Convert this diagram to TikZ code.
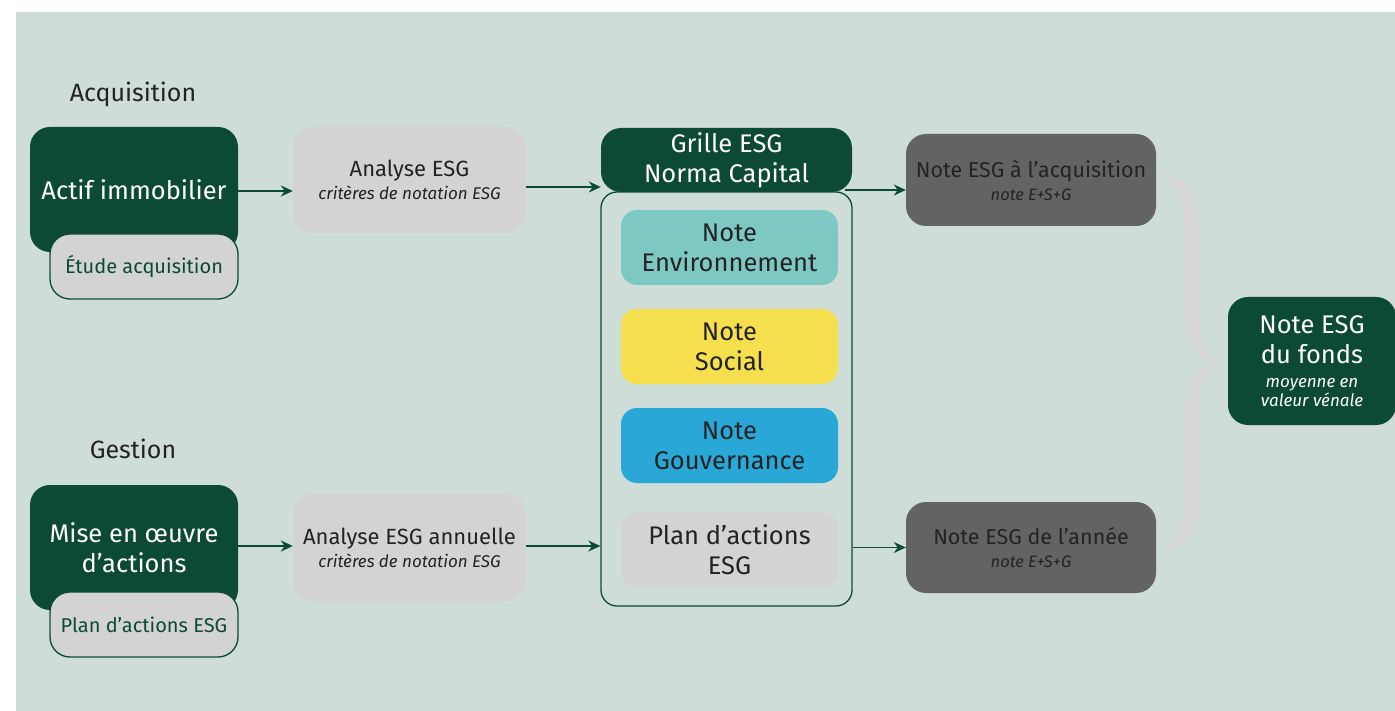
\documentclass[tikz,border=0pt]{standalone}
\usepackage{fontspec}
\setmainfont{Fira Sans}
\usetikzlibrary{arrows.meta}
\definecolor{bgc}{HTML}{CFDDD8}
\definecolor{dgreen}{HTML}{0C4A36}
\definecolor{lgray}{HTML}{D3D3D3}
\definecolor{dgray}{HTML}{636363}
\definecolor{txt}{HTML}{232323}
\definecolor{teal}{HTML}{7EC8C3}
\definecolor{yel}{HTML}{F5DF4D}
\definecolor{blu}{HTML}{29A8D8}
\definecolor{brace}{HTML}{D7D7D7}
\tikzset{
  box/.style={rectangle, rounded corners=20pt, align=center, inner sep=0pt},
  darkbox/.style={box, fill=dgreen, text=white, font=\fontsize{25.5}{30}\selectfont},
  subbox/.style={box, fill=lgray, draw=dgreen, line width=1.3pt, text=dgreen, font=\fontsize{20}{22}\selectfont},
  anbox/.style={box, fill=lgray, text=txt, font=\fontsize{22}{23}\selectfont},
  notebox/.style={box, rounded corners=16pt, text=txt, minimum width=217pt, minimum height=75pt, font=\fontsize{25.5}{30}\selectfont},
  resbox/.style={box, fill=dgray, text=txt, font=\fontsize{21.5}{23}\selectfont},
  head/.style={text=txt, font=\fontsize{25}{28}\selectfont},
  arr/.style={draw=dgreen, line width=1.6pt, -{Stealth[length=12pt,width=11pt]}},
}
\begin{document}
\begin{tikzpicture}[x=1pt,y=-1pt]
\useasboundingbox (0,0) rectangle (1395,711);
\clip (0,0) rectangle (1395,711);
\fill[bgc] (16,12) rectangle (1400,715);

% left column
\node[head] (hacq) at (133,94) {Acquisition};
\node[darkbox, minimum width=208pt, minimum height=125pt] (actif) at (134,189.5) {Actif immobilier};
\node[subbox, minimum width=188pt, minimum height=65pt] (etude) at (144,266.5) {Étude acquisition};

\node[head] (hges) at (133,449) {Gestion};
\node[darkbox, minimum width=208pt, minimum height=125pt] (mise) at (134,547.5) {Mise en œuvre\\d’actions};
\node[subbox, minimum width=188pt, minimum height=65pt] (plan1) at (144,624.5) {Plan d’actions ESG};

% analysis
\node[anbox, minimum width=233pt, minimum height=106pt] (an1) at (409.5,180) {Analyse ESG\\{\fontsize{17}{22}\selectfont\itshape critères de notation ESG}};
\node[anbox, minimum width=233pt, minimum height=107pt] (an2) at (409.5,547.5) {Analyse ESG annuelle\\{\fontsize{17}{22}\selectfont\itshape critères de notation ESG}};

% grid
\node[rectangle, rounded corners=16pt, draw=dgreen, line width=1.3pt, minimum width=251pt, minimum height=414pt, inner sep=0pt] (grid) at (726.5,399) {};
\node[darkbox, minimum width=251pt, minimum height=64pt] (grille) at (726.5,160) {Grille ESG\\Norma Capital};
\node[notebox, fill=teal] (nenv) at (729.5,247.5) {Note\\Environnement};
\node[notebox, fill=yel] (nsoc) at (729.5,346.5) {Note\\Social};
\node[notebox, fill=blu] (ngouv) at (729.5,445.5) {Note\\Gouvernance};
\node[notebox, fill=lgray] (nplan) at (729.5,549.5) {Plan d’actions\\ESG};

% results
\node[resbox, minimum width=250pt, minimum height=92pt] (racq) at (1031,180) {Note ESG à l’acquisition\\{\fontsize{16.5}{21}\selectfont\itshape note E+S+G}};
\node[resbox, minimum width=250pt, minimum height=91pt] (rann) at (1031,547.5) {Note ESG de l’année\\{\fontsize{16.5}{21}\selectfont\itshape note E+S+G}};

% brace
\fill[brace] (1160,172) .. controls (1192,178) and (1201,205) .. (1201,262) -- (1201,322)
  .. controls (1201,346) and (1208,356) .. (1220,362)
  .. controls (1208,368) and (1201,380) .. (1201,404) -- (1201,482)
  .. controls (1201,532) and (1190,548) .. (1160,552)
  .. controls (1180,540) and (1186,522) .. (1186,482) -- (1186,404)
  .. controls (1186,380) and (1198,366) .. (1216,362)
  .. controls (1198,358) and (1186,346) .. (1186,322) -- (1186,262)
  .. controls (1186,212) and (1180,184) .. (1160,172) -- cycle;

\node[darkbox, minimum width=168pt, minimum height=128pt] (fonds) at (1312,361) {Note ESG\\du fonds\\[-6pt]{\fontsize{17}{19}\selectfont\itshape moyenne en}\\[-11pt]{\fontsize{17}{19}\selectfont\itshape valeur vénale}};

% arrows
\draw[arr] ([yshift=-1.5pt]actif.east) -- ([yshift=-1.5pt]actif.east -| an1.west);
\draw[arr] ([yshift=-7pt]an1.east) -- ([yshift=-7pt]an1.east -| grille.west);
\draw[arr] ([xshift=-7pt,yshift=-10pt]grille.east |- racq.west) -- ([yshift=-10pt]racq.west);
\draw[arr] ([yshift=1.5pt]mise.east) -- ([yshift=1.5pt]mise.east -| an2.west);
\draw[arr] ([yshift=1.5pt]an2.east) -- ([yshift=1.5pt]an2.east -| grid.west);
\draw[arr] (grid.east |- rann.west) -- (rann.west);
\end{tikzpicture}
\end{document}
